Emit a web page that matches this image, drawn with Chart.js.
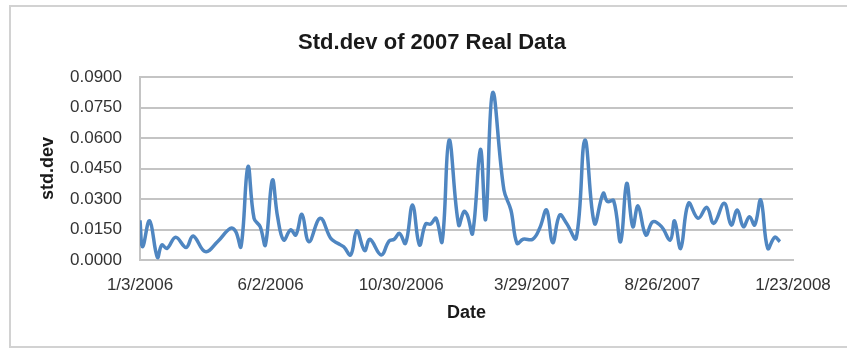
<!DOCTYPE html>
<html>
<head>
<meta charset="utf-8">
<title>Std.dev of 2007 Real Data</title>
<script src="https://cdn.jsdelivr.net/npm/chart.js@4/dist/chart.umd.min.js"></script>
<style>
  html, body { margin: 0; padding: 0; background: #ffffff; }
  #wrap { width: 847px; height: 349px; position: relative; }
</style>
</head>
<body>
<div id="wrap"><canvas id="chart" width="847" height="349"></canvas></div>
<script>
// Observation dates (ISO) and the standard deviation measured on each
const dates = [
  '2006-01-03','2006-01-06','2006-01-14','2006-01-23','2006-01-28','2006-02-03','2006-02-13','2006-02-25',
  '2006-03-05','2006-03-19','2006-04-02','2006-04-17','2006-04-23','2006-04-29','2006-05-07','2006-05-14',
  '2006-05-21','2006-05-27','2006-06-04','2006-06-10','2006-06-17','2006-06-25','2006-07-01','2006-07-08',
  '2006-07-16','2006-07-29','2006-08-10','2006-08-18','2006-08-25','2006-09-02','2006-09-09','2006-09-18',
  '2006-09-24','2006-10-07','2006-10-16','2006-10-22','2006-10-28','2006-11-04','2006-11-12','2006-11-20',
  '2006-11-27','2006-12-03','2006-12-09','2006-12-16','2006-12-24','2007-01-04','2007-01-10','2007-01-14',
  '2007-01-20','2007-01-29','2007-02-04','2007-02-12','2007-02-25','2007-03-05','2007-03-12','2007-03-19',
  '2007-03-30','2007-04-07','2007-04-15','2007-04-22','2007-04-30','2007-05-08','2007-05-19','2007-05-29',
  '2007-06-09','2007-06-19','2007-06-24','2007-07-01','2007-07-09','2007-07-16','2007-07-23','2007-07-29',
  '2007-08-07','2007-08-15','2007-08-25','2007-09-04','2007-09-09','2007-09-16','2007-09-25','2007-10-06',
  '2007-10-16','2007-10-24','2007-11-05','2007-11-13','2007-11-20','2007-11-27','2007-12-04','2007-12-10',
  '2007-12-17','2007-12-25','2008-01-02','2008-01-08'
];
const stdDev = [
  0.0195, 0.0065, 0.0193, 0.0013, 0.0074, 0.0057, 0.0112, 0.0062,
  0.0118, 0.0041, 0.0090, 0.0156, 0.0140, 0.0065, 0.0459, 0.0205,
  0.0164, 0.0074, 0.0393, 0.0213, 0.0098, 0.0148, 0.0123, 0.0225,
  0.0090, 0.0205, 0.0107, 0.0082, 0.0065, 0.0025, 0.0144, 0.0046,
  0.0102, 0.0025, 0.0093, 0.0102, 0.0131, 0.0082, 0.0270, 0.0074,
  0.0177, 0.0177, 0.0205, 0.0090, 0.0590, 0.0172, 0.0238, 0.0221,
  0.0131, 0.0544, 0.0200, 0.0823, 0.0344, 0.0246, 0.0082, 0.0102,
  0.0102, 0.0156, 0.0246, 0.0085, 0.0221, 0.0180, 0.0107, 0.0590,
  0.0180, 0.0328, 0.0287, 0.0292, 0.0090, 0.0377, 0.0164, 0.0266,
  0.0123, 0.0188, 0.0164, 0.0098, 0.0193, 0.0057, 0.0279, 0.0205,
  0.0259, 0.0180, 0.0279, 0.0172, 0.0246, 0.0164, 0.0213, 0.0172,
  0.0295, 0.0057, 0.0112, 0.0090
];
// Date axis labels, one every 150 days from the first date
const xTickLabels = ['1/3/2006', '6/2/2006', '10/30/2006', '3/29/2007', '8/26/2007', '1/23/2008'];
const xStepDays = 150;
const yMax = 0.09;
const yStep = 0.015;
const chartTitle = 'Std.dev of 2007 Real Data';

const DAY = 86400000;
const origin = Date.UTC(2006, 0, 3);
function dayOffset(iso) {
  const [y, m, d] = iso.split('-').map(Number);
  return Math.round((Date.UTC(y, m - 1, d) - origin) / DAY);
}
const points = dates.map((d, i) => ({ x: dayOffset(d), y: stdDev[i] }));

const FONT = '"Liberation Sans", Arial, Helvetica, sans-serif';
const GRID = '#c4c4c4';

// Light gray frame around the whole chart, plus the centred chart title
const frame = {
  id: 'frame',
  beforeDraw(chart) {
    const ctx = chart.ctx;
    ctx.save();
    ctx.fillStyle = '#ffffff';
    ctx.fillRect(0, 0, chart.width, chart.height);
    ctx.strokeStyle = '#d2d2d2';
    ctx.lineWidth = 2;
    ctx.strokeRect(10, 6, chart.width + 20, 341);
    ctx.fillStyle = '#1a1a1a';
    ctx.font = 'bold 22px ' + FONT;
    ctx.textAlign = 'center';
    ctx.textBaseline = 'middle';
    ctx.fillText(chartTitle, 432, 43);
    ctx.restore();
  }
};

new Chart(document.getElementById('chart'), {
  type: 'line',
  data: {
    datasets: [{
      label: 'std.dev',
      data: points,
      borderColor: '#4F86C1',
      borderWidth: 3.5,
      pointRadius: 0,
      tension: 0.4,
      fill: false
    }]
  },
  options: {
    responsive: false,
    animation: false,
    devicePixelRatio: 1,
    layout: { padding: { left: 0, right: 54, top: 77, bottom: 0 } },
    plugins: {
      legend: { display: false },
      tooltip: { enabled: false },
      title: { display: false }
    },
    scales: {
      x: {
        type: 'linear',
        min: 0,
        max: xStepDays * (xTickLabels.length - 1),
        afterFit(scale) { scale.height = 89; },
        afterBuildTicks(scale) {
          scale.ticks = xTickLabels.map((_, i) => ({ value: i * xStepDays }));
        },
        ticks: {
          autoSkip: false,
          maxRotation: 0,
          padding: 15,
          color: '#333333',
          font: { family: FONT, size: 17 },
          callback: (v) => xTickLabels[Math.round(v / xStepDays)]
        },
        grid: { display: false, drawTicks: false },
        border: { display: true, color: GRID, width: 2 },
        title: {
          display: true,
          text: 'Date',
          color: '#1a1a1a',
          font: { family: FONT, size: 18, weight: 'bold' },
          padding: { top: 0, bottom: 25 }
        }
      },
      y: {
        min: 0,
        max: yMax,
        afterFit(scale) { scale.width = 140; },
        ticks: {
          stepSize: yStep,
          padding: 18,
          color: '#333333',
          font: { family: FONT, size: 17 },
          callback: (v) => v.toFixed(4)
        },
        grid: { color: GRID, lineWidth: 2, drawTicks: false },
        border: { display: true, color: GRID, width: 2 },
        title: {
          display: true,
          text: 'std.dev',
          color: '#1a1a1a',
          font: { family: FONT, size: 18, weight: 'bold' },
          padding: { top: 37, bottom: 0 }
        }
      }
    }
  },
  plugins: [frame]
});
</script>
</body>
</html>
